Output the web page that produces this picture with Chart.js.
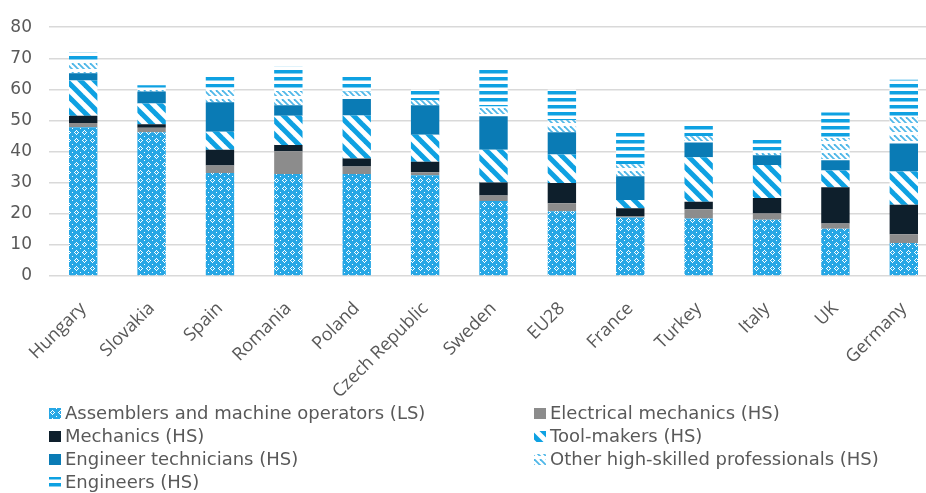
<!DOCTYPE html>
<html>
<head>
<meta charset="utf-8">
<script src="https://cdn.jsdelivr.net/npm/chart.js@4"></script>
<style>
  html, body { margin: 0; padding: 0; background: #fff; overflow: hidden; }
  #wrap { width: 945px; height: 493px; }
</style>
</head>
<body>
<div id="wrap"><canvas id="chart" width="945" height="493"></canvas></div>
<script>
// Categories and series
const categories = ['Hungary', 'Slovakia', 'Spain', 'Romania', 'Poland', 'Czech Republic', 'Sweden', 'EU28', 'France', 'Turkey', 'Italy', 'UK', 'Germany'];
const assemblers = [47.8, 46.2, 33.1, 32.8, 32.8, 32.4, 24.1, 20.8, 18.8, 18.5, 18.1, 15.2, 10.6];
const electrical = [1.4, 1.5, 2.4, 7.3, 2.4, 1.0, 1.8, 2.6, 0.5, 3.0, 2.0, 1.7, 2.8];
const mechanics = [2.3, 1.1, 5.1, 2.0, 2.6, 3.3, 4.2, 6.5, 2.5, 2.4, 5.0, 11.6, 9.5];
const toolMakers = [11.4, 6.7, 5.8, 9.4, 13.8, 8.7, 10.5, 9.2, 2.6, 14.3, 10.6, 5.4, 10.7];
const engTechnicians = [2.3, 3.8, 9.5, 3.4, 5.3, 9.5, 10.8, 7.1, 7.7, 4.7, 3.1, 3.3, 9.0];
const otherHighSkilled = [3.8, 1.0, 4.6, 4.6, 2.4, 1.6, 3.1, 3.9, 3.8, 2.0, 1.5, 7.2, 8.5];
const engineers = [2.9, 1.0, 4.3, 7.8, 5.6, 3.5, 12.5, 9.9, 10.3, 3.3, 3.4, 8.2, 12.0];
const yTicks = [0, 10, 20, 30, 40, 50, 60, 70, 80];

const LIGHT_BLUE = '#0ea1e2';
const TEXT_GREY = '#595959';

// Small helper to build a repeating canvas pattern
function makePattern(w, h, draw) {
    const c = document.createElement('canvas');
    c.width = w;
    c.height = h;
    const x = c.getContext('2d');
    x.fillStyle = '#ffffff';
    x.fillRect(0, 0, w, h);
    draw(x, w, h);
    return x.createPattern(c, 'repeat');
}

// lattice for assemblers
const latticePattern = makePattern(8, 8, function (x) {
    x.fillStyle = '#27a7e5';
    x.fillRect(0, 0, 8, 8);
    x.fillStyle = '#ffffff';
    [[4, 2], [3, 3], [5, 3], [2, 4], [6, 4], [3, 5], [5, 5], [4, 6], [0, 0]].forEach(function (p) {
        x.fillRect(p[0], p[1], 1, 1);
    });
});

// wide diagonal stripes for tool-makers
const wideDiagPattern = makePattern(14, 14, function (x, s) {
    x.strokeStyle = LIGHT_BLUE;
    x.lineWidth = 5;
    for (let k = -1; k <= 1; k++) {
        x.beginPath();
        x.moveTo(k * s - 2, -2);
        x.lineTo(k * s + s + 2, s + 2);
        x.stroke();
    }
});

// small dashed diagonals for other high-skilled professionals
const smallDiagPattern = makePattern(6, 9, function (x) {
    x.strokeStyle = '#4fb7e8';
    x.lineWidth = 1.8;
    for (let k = -2; k <= 1; k++) {
        x.beginPath();
        x.moveTo(k * 6, 0);
        x.lineTo(k * 6 + 9, 9);
        x.stroke();
    }
    x.fillStyle = '#ffffff';
    x.fillRect(0, 6, 6, 3);
});

// horizontal stripes for engineers
const hStripePattern = makePattern(8, 7, function (x) {
    x.fillStyle = LIGHT_BLUE;
    x.fillRect(0, 0, 8, 3.5);
});

const datasets = [
    { label: 'Assemblers and machine operators (LS)', data: assemblers, backgroundColor: latticePattern },
    { label: 'Electrical mechanics (HS)', data: electrical, backgroundColor: '#8c8c8c' },
    { label: 'Mechanics (HS)', data: mechanics, backgroundColor: '#0e1f2c' },
    { label: 'Tool-makers (HS)', data: toolMakers, backgroundColor: wideDiagPattern },
    { label: 'Engineer technicians (HS)', data: engTechnicians, backgroundColor: '#0a7bb5' },
    { label: 'Other high-skilled professionals (HS)', data: otherHighSkilled, backgroundColor: smallDiagPattern },
    { label: 'Engineers (HS)', data: engineers, backgroundColor: hStripePattern }
];
datasets.forEach(function (d) {
    d.borderWidth = 0;
    d.barPercentage = 0.415;
    d.categoryPercentage = 1.0;
});

// legend drawn in two columns below the plot
const legendSlots = [
    [49, 413], [534, 413],
    [49, 436], [534, 436],
    [49, 459], [534, 459],
    [49, 482]
];

const twoColumnLegend = {
    id: 'twoColumnLegend',
    afterDraw(chart) {
        const ctx = chart.ctx;
        ctx.save();
        ctx.font = '18px "DejaVu Sans"';
        ctx.textBaseline = 'middle';
        chart.data.datasets.forEach(function (ds, i) {
            const [sx, sy] = legendSlots[i];
            ctx.fillStyle = ds.backgroundColor;
            ctx.fillRect(sx, sy - 5, 12, 11);
            ctx.fillStyle = TEXT_GREY;
            ctx.fillText(ds.label, sx + 16, sy + 1);
        });
        ctx.restore();
    }
};

new Chart(document.getElementById('chart').getContext('2d'), {
    type: 'bar',
    data: { labels: categories, datasets: datasets },
    options: {
        responsive: false,
        animation: false,
        devicePixelRatio: 1,
        layout: { padding: { top: 16, right: 7, bottom: 87, left: 0 } },
        plugins: {
            legend: { display: false },
            tooltip: { enabled: false }
        },
        scales: {
            x: {
                stacked: true,
                grid: { display: false },
                border: { display: false },
                ticks: {
                    color: TEXT_GREY,
                    font: { family: '"Open Sans"', size: 18 },
                    minRotation: 45,
                    maxRotation: 45,
                    padding: 14,
                    autoSkip: false
                },
                afterFit(scale) {
                    scale.height = 130;
                    scale.paddingLeft = 0;
                    scale.paddingRight = 0;
                }
            },
            y: {
                stacked: true,
                min: 0,
                max: 80,
                afterBuildTicks(scale) { scale.ticks = yTicks.map(v => ({ value: v })); },
                grid: { color: '#d9d9d9', lineWidth: 1.5, drawTicks: false },
                border: { display: false },
                ticks: {
                    color: TEXT_GREY,
                    font: { family: '"DejaVu Sans"', size: 17 },
                    padding: 17
                },
                afterFit(scale) { scale.width = 49; }
            }
        }
    },
    plugins: [twoColumnLegend]
});
</script>
</body>
</html>
